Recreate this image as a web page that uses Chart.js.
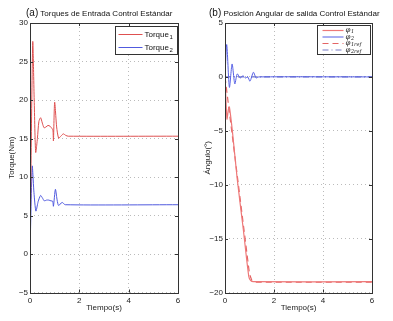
<!DOCTYPE html>
<html lang="es">
<head>
<meta charset="UTF-8" />
<title>Control Estándar</title>
<script src="https://cdn.jsdelivr.net/npm/chart.js"></script>
<style>
  body { margin: 0; background: #fff; font-family: "Liberation Sans", Arial, sans-serif; }
  #wrap { position: relative; width: 393px; height: 321px; overflow: hidden; }
  .panel { position: absolute; top: 0; height: 321px; }
  .ttl { position: absolute; top: 7px; font-size: 8px; color: #111; white-space: nowrap; }
  .ttl b { font-weight: normal; font-size: 10px; }
</style>
</head>
<body>
<div id="wrap">
  <div class="panel" style="left:0;width:196px"><canvas id="torques"></canvas></div>
  <div class="panel" style="left:196px;width:197px"><canvas id="angulos"></canvas></div>
  <div class="ttl" style="left:26px"><b>(a)</b> Torques de Entrada Control Estándar</div>
  <div class="ttl" style="left:209px"><b>(b)</b> Posición Angular de salida Control Estándar</div>
</div>

<script>
// torques de entrada
const torque1Time = [0, 0.11, 0.17, 0.23, 0.3, 0.36, 0.43, 0.5, 0.57, 0.65, 0.73, 0.81, 0.89, 0.93, 0.95, 1.0, 1.08, 1.16, 1.25, 1.35, 1.45, 1.55, 6];
const torque1 = [0, 27.5, 20, 13.2, 15, 17.2, 17.7, 17, 16.4, 16.5, 16.7, 16.6, 16.3, 16.1, 14.7, 19.7, 16.5, 15.05, 15.3, 15.6, 15.4, 15.3, 15.3];
const torque2Time = [0, 0.09, 0.16, 0.24, 0.33, 0.43, 0.5, 0.58, 0.67, 0.76, 0.85, 0.92, 0.95, 1.03, 1.1, 1.16, 1.3, 1.43, 6];
const torque2 = [0, 11.4, 8, 5.57, 6.8, 7.6, 7.3, 6.9, 7.0, 7.0, 6.9, 6.85, 6.2, 8.4, 7, 6.3, 6.7, 6.4, 6.4];

// posiciones angulares (grados)
const phi1Time = [0, 0.08, 0.14, 0.18, 0.3, 0.5, 0.75, 0.97, 1.05, 1.16, 6];
const phi1 = [0, -3.9, -3.0, -2.8, -5, -9.5, -14.2, -18.5, -18.9, -19.0, -19.0];
const phi2Time = [0, 0.07, 0.18, 0.29, 0.4, 0.5, 0.62, 0.73, 0.84, 0.93, 1.02, 1.16, 1.27, 1.38, 6];
const phi2 = [0, 3.0, -0.97, 1.2, -0.65, 0.28, -0.1, 0.1, -0.1, 0, -0.4, 0.43, -0.1, 0, 0];
const phi1RefTime = [0, 1.0, 1.1, 1.2, 6];
const phi1Ref = [0, -18.3, -18.9, -19.05, -19.05];
const phi2RefTime = [0, 6];
const phi2Ref = [0, 0];

const timeTicks = [0, 2, 4, 6];

const FONT = "'Liberation Sans', Arial, sans-serif";
const pts = (ts, vs) => ts.map((t, i) => ({ x: t, y: vs[i] }));

// marco cerrado con marcas hacia dentro, estilo MATLAB
const frame = {
  id: 'frame',
  afterDraw(chart) {
    const { ctx, chartArea: a, scales } = chart;
    ctx.save();
    ctx.strokeStyle = '#333';
    ctx.lineWidth = 1;
    ctx.beginPath();
    scales.x.ticks.forEach(tk => {
      const px = Math.round(scales.x.getPixelForValue(tk.value)) + 0.5;
      ctx.moveTo(px, a.bottom); ctx.lineTo(px, a.bottom - 3);
      ctx.moveTo(px, a.top); ctx.lineTo(px, a.top + 3);
    });
    scales.y.ticks.forEach(tk => {
      const py = Math.round(scales.y.getPixelForValue(tk.value)) + 0.5;
      ctx.moveTo(a.left, py); ctx.lineTo(a.left + 3, py);
      ctx.moveTo(a.right, py); ctx.lineTo(a.right - 3, py);
    });
    ctx.stroke();
    ctx.strokeRect(Math.round(a.left) + 0.5, Math.round(a.top) + 0.5,
      Math.round(a.right - a.left), Math.round(a.bottom - a.top));
    ctx.restore();
  }
};

// leyenda en recuadro dentro del área de trazado, con subíndices
const boxLegend = {
  id: 'boxLegend',
  afterDraw(chart, args, o) {
    const { ctx, chartArea: a } = chart;
    const x0 = Math.round(a.right - o.right - o.width) + 0.5;
    const y0 = Math.round(a.top + o.top) + 0.5;
    ctx.save();
    ctx.fillStyle = '#fff';
    ctx.fillRect(x0, y0, o.width, o.height);
    ctx.strokeStyle = '#333';
    ctx.lineWidth = 1;
    ctx.strokeRect(x0, y0, o.width, o.height);
    chart.data.datasets.forEach((ds, i) => {
      const y = y0 + o.first + i * o.row;
      ctx.strokeStyle = ds.borderColor;
      ctx.lineWidth = ds.borderWidth;
      ctx.setLineDash(ds.borderDash || []);
      ctx.beginPath();
      ctx.moveTo(x0 + o.pad, y); ctx.lineTo(x0 + o.pad + o.line, y);
      ctx.stroke();
      ctx.setLineDash([]);
      ctx.fillStyle = '#111';
      ctx.textBaseline = 'middle';
      ctx.font = o.font;
      const tx = x0 + o.pad + o.line + 2;
      ctx.fillText(ds.label, tx, y);
      const w = ctx.measureText(ds.label).width;
      ctx.font = o.subFont;
      ctx.fillText(ds.sub, tx + w + 0.5, y + o.subShift);
    });
    ctx.restore();
  }
};

function makeChart(id, datasets, yMin, yMax, yTitle, padRight, yWidth, legend) {
  return new Chart(document.getElementById(id), {
    type: 'line',
    data: { datasets },
    options: {
      responsive: true,
      maintainAspectRatio: false,
      animation: false,
      events: [],
      layout: { padding: { top: 23, right: padRight, bottom: 0, left: 0 } },
      elements: { point: { radius: 0 }, line: { tension: 0.25, borderWidth: 1 } },
      plugins: { legend: { display: false }, tooltip: { enabled: false }, boxLegend: legend },
      scales: {
        x: {
          type: 'linear', min: 0, max: 6,
          afterBuildTicks: s => { s.ticks = timeTicks.map(v => ({ value: v })); },
          afterFit: s => { s.height = 28.5; },
          grid: { color: '#bbb', drawTicks: false, tickBorderDash: [1, 3] },
          border: { display: false, dash: [1, 3] },
          ticks: { padding: 3, color: '#222', font: { family: FONT, size: 8 } },
          title: { display: true, text: 'Tiempo(s)', color: '#222', padding: { top: 0, bottom: 8 }, font: { family: FONT, size: 8 } }
        },
        y: {
          min: yMin, max: yMax,
          afterFit: s => { s.width = yWidth; },
          grid: { color: '#bbb', drawTicks: false },
          border: { display: false, dash: [1, 3] },
          ticks: {
            stepSize: 5, padding: 2, color: '#222', font: { family: FONT, size: 8 },
            callback: v => String(v).replace('-', '\u2212')
          },
          title: { display: true, text: yTitle, color: '#222', padding: { top: 7, bottom: 0 }, font: { family: FONT, size: 8 } }
        }
      }
    },
    plugins: [frame, boxLegend]
  });
}

makeChart('torques', [
  { label: 'Torque', sub: '1', data: pts(torque1Time, torque1), borderColor: 'rgb(222,80,80)', borderWidth: 1 },
  { label: 'Torque', sub: '2', data: pts(torque2Time, torque2), borderColor: 'rgb(80,90,222)', borderWidth: 1 }
], -5, 30, 'Torque(Nm)', 18, 30, {
  width: 62, height: 28, right: 1, top: 3, first: 8, row: 13, pad: 3, line: 24,
  font: '8px ' + FONT, subFont: '6px ' + FONT, subShift: 3
});

makeChart('angulos', [
  { label: '\u03c6', sub: '1', data: pts(phi1Time, phi1), borderColor: 'rgb(238,120,120)', borderWidth: 1.2 },
  { label: '\u03c6', sub: '2', data: pts(phi2Time, phi2), borderColor: 'rgb(85,95,228)', borderWidth: 1 },
  { label: '\u03c6', sub: '1ref', data: pts(phi1RefTime, phi1Ref), borderColor: 'rgb(228,100,100)', borderWidth: 1.2, borderDash: [6, 4], tension: 0 },
  { label: '\u03c6', sub: '2ref', data: pts(phi2RefTime, phi2Ref), borderColor: 'rgb(120,125,200)', borderWidth: 1.2, borderDash: [6, 3, 1, 3], tension: 0 }
], -20, 5, 'Ángulo(°)', 21, 29, {
  width: 53, height: 29, right: 2, top: 2, first: 5, row: 6.5, pad: 5, line: 21,
  font: 'italic 7px "DejaVu Serif", serif', subFont: 'italic 5px "DejaVu Serif", serif', subShift: 1.5
});
</script>
</body>
</html>
